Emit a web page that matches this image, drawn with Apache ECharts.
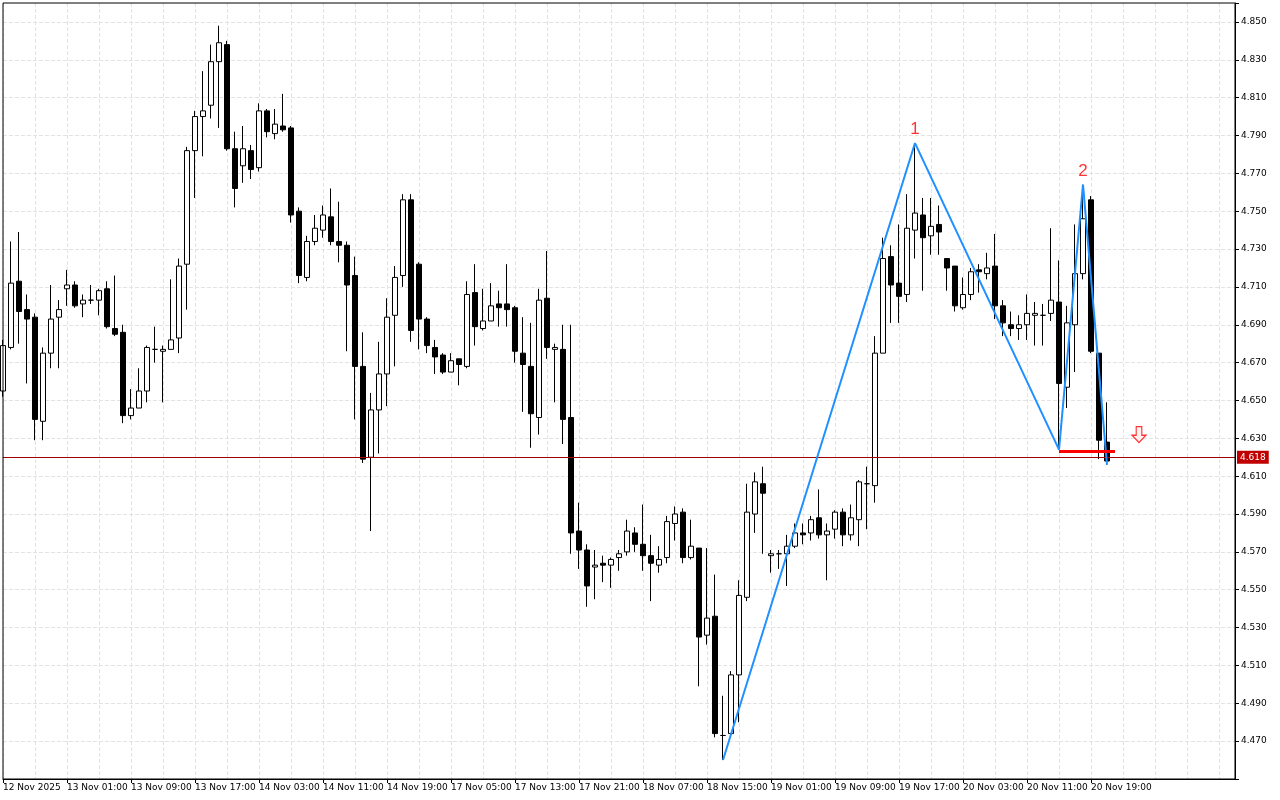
<!DOCTYPE html>
<html><head><meta charset="utf-8">
<script src="https://cdn.jsdelivr.net/npm/echarts@6/dist/echarts.min.js"></script>
<style>html,body{margin:0;padding:0;background:#fff}#c{width:1280px;height:800px}</style>
</head><body><div id="c"></div>
<script>
const tickLabels = ["12 Nov 2025","13 Nov 01:00","13 Nov 09:00","13 Nov 17:00","14 Nov 03:00","14 Nov 11:00","14 Nov 19:00","17 Nov 05:00","17 Nov 13:00","17 Nov 21:00","18 Nov 07:00","18 Nov 15:00","19 Nov 01:00","19 Nov 09:00","19 Nov 17:00","20 Nov 03:00","20 Nov 11:00","20 Nov 19:00"];
const open = [4.655,4.678,4.713,4.698,4.694,4.639,4.675,4.694,4.709,4.711,4.701,4.703,4.703,4.709,4.688,4.686,4.642,4.646,4.655,4.677,4.676,4.677,4.683,4.722,4.782,4.800,4.806,4.829,4.838,4.783,4.774,4.782,4.773,4.803,4.791,4.795,4.794,4.750,4.715,4.734,4.740,4.747,4.734,4.732,4.716,4.668,4.620,4.645,4.664,4.695,4.716,4.756,4.722,4.693,4.678,4.674,4.665,4.672,4.668,4.707,4.688,4.692,4.701,4.701,4.699,4.675,4.668,4.641,4.704,4.677,4.677,4.641,4.581,4.571,4.562,4.564,4.563,4.567,4.570,4.580,4.574,4.568,4.563,4.567,4.585,4.591,4.567,4.572,4.526,4.536,4.473,4.474,4.505,4.546,4.590,4.606,4.568,4.569,4.569,4.573,4.580,4.580,4.588,4.579,4.582,4.591,4.579,4.587,4.606,4.605,4.675,4.726,4.712,4.706,4.740,4.748,4.737,4.743,4.725,4.721,4.699,4.706,4.719,4.717,4.721,4.700,4.690,4.688,4.690,4.695,4.695,4.696,4.702,4.657,4.690,4.717,4.756,4.675,4.628];
const close = [4.679,4.712,4.697,4.693,4.640,4.675,4.693,4.698,4.711,4.700,4.703,4.703,4.708,4.689,4.685,4.642,4.646,4.655,4.678,4.677,4.677,4.682,4.721,4.782,4.800,4.803,4.829,4.839,4.783,4.762,4.783,4.772,4.803,4.792,4.796,4.793,4.748,4.716,4.734,4.741,4.748,4.734,4.732,4.711,4.668,4.619,4.645,4.664,4.694,4.715,4.756,4.687,4.693,4.679,4.673,4.665,4.671,4.669,4.706,4.689,4.692,4.700,4.699,4.698,4.676,4.669,4.643,4.703,4.678,4.678,4.640,4.580,4.571,4.552,4.563,4.563,4.566,4.569,4.581,4.574,4.568,4.564,4.566,4.586,4.590,4.567,4.573,4.525,4.535,4.474,4.473,4.505,4.547,4.591,4.607,4.601,4.569,4.569,4.573,4.580,4.579,4.587,4.579,4.581,4.591,4.579,4.588,4.607,4.606,4.675,4.725,4.711,4.705,4.741,4.749,4.736,4.742,4.739,4.720,4.700,4.706,4.718,4.718,4.720,4.700,4.691,4.688,4.690,4.696,4.696,4.695,4.703,4.659,4.691,4.717,4.746,4.676,4.629,4.618];
const high = [4.682,4.734,4.739,4.706,4.696,4.678,4.711,4.703,4.719,4.713,4.706,4.711,4.709,4.713,4.716,4.690,4.656,4.667,4.679,4.689,4.679,4.714,4.725,4.784,4.803,4.824,4.838,4.848,4.840,4.792,4.795,4.785,4.807,4.804,4.804,4.812,4.795,4.752,4.737,4.748,4.753,4.762,4.755,4.734,4.726,4.686,4.654,4.681,4.704,4.721,4.759,4.759,4.723,4.694,4.682,4.675,4.675,4.672,4.713,4.722,4.709,4.712,4.708,4.722,4.700,4.694,4.691,4.709,4.729,4.680,4.690,4.690,4.596,4.574,4.571,4.568,4.567,4.571,4.587,4.583,4.595,4.579,4.573,4.589,4.594,4.593,4.587,4.572,4.572,4.558,4.494,4.507,4.555,4.606,4.612,4.615,4.571,4.571,4.579,4.585,4.585,4.589,4.603,4.585,4.592,4.593,4.595,4.608,4.615,4.684,4.736,4.732,4.743,4.759,4.786,4.757,4.757,4.753,4.725,4.721,4.715,4.720,4.722,4.728,4.738,4.703,4.697,4.695,4.706,4.702,4.701,4.741,4.724,4.700,4.743,4.764,4.758,4.675,4.649];
const low = [4.652,4.677,4.680,4.659,4.629,4.629,4.667,4.667,4.700,4.699,4.694,4.701,4.695,4.688,4.684,4.638,4.640,4.646,4.649,4.670,4.649,4.677,4.675,4.698,4.757,4.779,4.799,4.794,4.782,4.752,4.765,4.767,4.771,4.789,4.788,4.792,4.744,4.712,4.713,4.732,4.736,4.732,4.723,4.676,4.640,4.617,4.581,4.622,4.647,4.668,4.710,4.681,4.677,4.675,4.664,4.664,4.665,4.658,4.667,4.679,4.687,4.692,4.689,4.689,4.670,4.644,4.625,4.632,4.672,4.649,4.627,4.569,4.561,4.541,4.545,4.554,4.551,4.560,4.568,4.570,4.560,4.544,4.559,4.564,4.576,4.564,4.566,4.499,4.521,4.472,4.460,4.472,4.480,4.544,4.580,4.569,4.559,4.561,4.552,4.572,4.574,4.576,4.577,4.555,4.577,4.573,4.576,4.573,4.582,4.596,4.675,4.691,4.691,4.702,4.725,4.708,4.727,4.727,4.708,4.697,4.698,4.703,4.707,4.714,4.693,4.684,4.684,4.682,4.682,4.679,4.679,4.692,4.624,4.646,4.665,4.714,4.675,4.619,4.616];
const patternIdx = [90,114,132,135,138];
const patternVal = [4.460,4.786,4.624,4.764,4.616];
const necklineIdx = [132,139];
const necklineVal = [4.623,4.623];
const peakLabels = [{i:114,v:4.786,t:"1"},{i:135,v:4.764,t:"2"}];
const arrowPoint = {i:142,v:4.632};
const lastPrice = 4.618;
const nSlots = 155;

const cats = Array.from({length:nSlots},(_,i)=>String(i));
const candles = open.map((o,i)=>[o,close[i],low[i],high[i]]);
const pattern = new Array(nSlots).fill(null);
patternIdx.forEach((k,j)=>pattern[k]=patternVal[j]);
const neck = new Array(nSlots).fill(null);
for(let k=necklineIdx[0];k<=necklineIdx[1];k++) neck[k]=necklineVal[0];

const chart = echarts.init(document.getElementById('c'));
chart.setOption({
  animation:false,
  backgroundColor:'#fff',
  grid:{left:3,right:45,top:3,bottom:21,show:true,borderColor:'#000',borderWidth:1,z:10},
  xAxis:{type:'category',data:cats,boundaryGap:false,
    axisLine:{lineStyle:{color:'#000'}},
    axisTick:{show:true,interval:(i)=>i%8===0&&i/8<tickLabels.length,length:4,lineStyle:{color:'#000'}},
    axisLabel:{interval:(i)=>i%8===0,formatter:(v,i)=>tickLabels[i/8]||'',align:'left',margin:4,color:'#000',fontSize:9,fontFamily:'DejaVu Sans'},
    splitLine:{show:true,interval:(i)=>i%4===0,lineStyle:{color:'#e3e3e3',type:'dashed'}}},
  yAxis:{type:'value',position:'right',min:4.45,max:4.86,interval:0.02,scale:true,
    axisLine:{show:true,lineStyle:{color:'#000'}},
    axisTick:{show:true,length:4,lineStyle:{color:'#000'}},
    axisLabel:{formatter:(v)=>(v<4.46||v>4.855)?'':v.toFixed(3),color:'#000',fontSize:9,fontFamily:'DejaVu Sans',margin:6},
    splitLine:{show:true,showMinLine:false,showMaxLine:false,lineStyle:{color:'#e3e3e3',type:'dashed'}}},
  series:[
    {type:'candlestick',data:candles,barWidth:5,
      itemStyle:{color:'#fff',color0:'#000',borderColor:'#000',borderColor0:'#000',borderWidth:1},
      markLine:{silent:true,symbol:'none',data:[{yAxis:lastPrice}],
        lineStyle:{color:'#a00000',width:1,type:'solid'},
        label:{position:'end',formatter:lastPrice.toFixed(3),color:'#fff',backgroundColor:'#c00000',padding:[2,3],fontSize:9,fontFamily:'DejaVu Sans',distance:2}}},
    {type:'line',data:pattern,connectNulls:true,symbol:'none',lineStyle:{color:'#1e90ff',width:2},z:5},
    {type:'line',data:neck,connectNulls:true,symbol:'none',lineStyle:{color:'#ff0000',width:3},z:6},
    {type:'scatter',data:peakLabels.map(p=>[p.i,p.v]),symbolSize:2,itemStyle:{color:'rgba(0,0,0,0)'},z:7,
      label:{show:true,position:'top',distance:4,formatter:(p)=>peakLabels[p.dataIndex].t,color:'#ff0000',textBorderWidth:0,fontSize:17,fontFamily:'Liberation Sans'}},
    {type:'scatter',data:[[arrowPoint.i,arrowPoint.v]],symbol:'path://M3,0 L7,0 L7,6 L10,6 L5,11 L0,6 L3,6 Z',symbolSize:[14,16],
      itemStyle:{color:'#fff0f0',borderColor:'#ff0000',borderWidth:1.2},z:7}
  ]
});
</script></body></html>
